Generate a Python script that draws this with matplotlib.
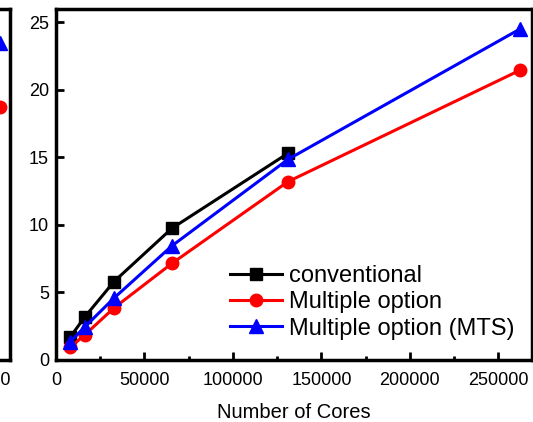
"""
Scaling chart: time vs number of cores for three methods
"""
import matplotlib
matplotlib.use('Agg')
import matplotlib.pyplot as plt
from matplotlib.ticker import MultipleLocator

plt.rcParams['font.family'] = ['Liberation Sans', 'DejaVu Sans']

# 數據
cores = [8192, 16384, 32768, 65536, 131072, 262144]
conventional = [1.72, 3.2, 5.8, 9.75, 15.3]
multiple_option = [0.96, 1.87, 3.85, 7.15, 13.2, 21.45]
multiple_mts = [1.36, 2.46, 4.58, 8.45, 14.85, 24.5]

# 左側鄰接面板（只露出邊緣）
left_cores = [262144]
left_multiple = [18.7]
left_mts = [23.5]
left_ticks = [250000]

x_ticks = [0, 50000, 100000, 150000, 200000, 250000]
y_ticks = [0, 5, 10, 15, 20, 25]

fig = plt.figure(figsize=(5.33, 4.22), dpi=100)

# 左側被裁切的面板
axl = fig.add_axes([-0.8105, 0.147, 0.829, 0.832])
axl.plot(left_cores, left_multiple, 'o', color='#ff0000', ms=9)
axl.plot(left_cores, left_mts, '^', color='#0000ff', ms=10)
axl.set_xlim(0, 268200)
axl.set_ylim(0, 26)
axl.set_xticks(left_ticks)
axl.set_yticks([])
axl.tick_params(axis='x', direction='in', labelsize=13, pad=8.5, width=2, length=6)
for s in axl.spines.values():
    s.set_linewidth(2.5)

# 主面板
ax = fig.add_axes([0.105, 0.147, 0.893, 0.832])
ax.plot(cores[:len(conventional)], conventional, '-s', color='black', lw=2.2, ms=9,
        label='conventional')
ax.plot(cores, multiple_option, '-o', color='#ff0000', lw=2.2, ms=9,
        label='Multiple option')
ax.plot(cores, multiple_mts, '-^', color='#0000ff', lw=2.2, ms=10,
        label='Multiple option (MTS)')

ax.set_xlim(0, 269000)
ax.set_ylim(0, 26)
ax.set_xticks(x_ticks)
ax.set_yticks(y_ticks)
ax.xaxis.set_minor_locator(MultipleLocator(25000))
ax.tick_params(axis='both', which='major', direction='in', labelsize=13, width=2, length=6)
ax.tick_params(axis='x', which='major', pad=8.5)
ax.tick_params(axis='y', which='major', pad=5)
ax.tick_params(axis='x', which='minor', direction='in', width=2, length=3)
for s in ax.spines.values():
    s.set_linewidth(2.5)

ax.set_xlabel('Number of Cores', fontsize=14.5, labelpad=10)

ax.legend(loc='upper left', bbox_to_anchor=(0.366, 0.27), frameon=False,
          fontsize=17, handlelength=2.2, handletextpad=0.3,
          labelspacing=0.18, borderpad=0, borderaxespad=0)

plt.savefig('out.png', dpi=100)
